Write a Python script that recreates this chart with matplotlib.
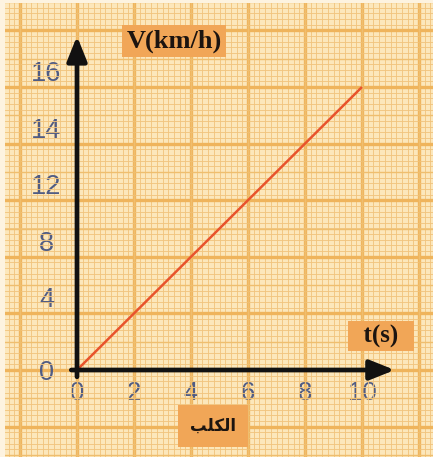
import numpy as np
import matplotlib
matplotlib.use("Agg")
import matplotlib.pyplot as plt
from matplotlib.ticker import FixedLocator, FuncFormatter, MultipleLocator
from matplotlib.scale import FuncScale

# ---- data ----
t_values = [0, 10]            # time (s)
v_values = [0, 16]            # speed (km/h)
x_ticks = [0, 2, 4, 6, 8, 10]
y_ticks = [0, 4, 8, 12, 14, 16]   # printed (unevenly valued, evenly spaced) labels
y_label = "V(km/h)"
x_label = "t(s)"
caption = "\uFE90\uFEE0\uFEDC\uFEDF\uFE8D"   # "الكلب" in shaped presentation forms

# ---- piecewise y scale: labelled values are evenly spaced ----
Y_POS = np.arange(len(y_ticks), dtype=float)
Y_VAL = np.array(y_ticks, dtype=float)
lo_slope = Y_VAL[1] - Y_VAL[0]
hi_slope = Y_VAL[-1] - Y_VAL[-2]

def fwd(v):
    v = np.asarray(v, dtype=float)
    p = np.interp(v, Y_VAL, Y_POS)
    p = np.where(v < Y_VAL[0], (v - Y_VAL[0]) / lo_slope, p)
    p = np.where(v > Y_VAL[-1], Y_POS[-1] + (v - Y_VAL[-1]) / hi_slope, p)
    return p

def inv(p):
    p = np.asarray(p, dtype=float)
    v = np.interp(p, Y_POS, Y_VAL)
    v = np.where(p < 0, Y_VAL[0] + p * lo_slope, v)
    v = np.where(p > Y_POS[-1], Y_VAL[-1] + (p - Y_POS[-1]) * hi_slope, v)
    return v

W, H = 433, 457
fig = plt.figure(figsize=(W / 100, H / 100), dpi=100)
fig.patch.set_facecolor("#fdf3e0")
ax = fig.add_axes([0.012, 0.0, 0.988, 0.993])
ax.set_facecolor("#fce7bb")

ax.set_yscale(FuncScale(ax, (fwd, inv)))

# axis placement (origin ~ pixel (77,370))
px_per_t = 28.5
px_per_pos = 56.6
ax_left_px = 0.012 * W
ax_w_px = 0.988 * W
ax_h_px = 0.993 * H
x0 = -(77 - ax_left_px) / px_per_t
ax.set_xlim(x0, x0 + ax_w_px / px_per_t)
p_bot = -(457 - 370) / px_per_pos
p_top = p_bot + ax_h_px / px_per_pos
ax.set_ylim(float(inv(p_bot)), float(inv(p_top)))

# graph paper grid
xl = ax.get_xlim()
ax.xaxis.set_major_locator(MultipleLocator(2))
ax.xaxis.set_minor_locator(MultipleLocator(0.2))
maj_pos = np.arange(np.floor(p_bot), np.ceil(p_top) + 1)
ax.yaxis.set_major_locator(FixedLocator(inv(maj_pos)))
ax.yaxis.set_minor_locator(FixedLocator(inv(np.arange(np.floor(p_bot), np.ceil(p_top) + 0.1, 0.1))))
ax.grid(which="minor", color="#f1c47d", lw=0.65, alpha=0.95)
ax.grid(which="major", color="#efb45c", lw=2.4)
for xv in np.arange(np.floor(xl[0]), xl[1] + 1, 2) + 1:
    ax.axvline(xv, color="#efbe6e", lw=1.0, zorder=0.6)
for pv in maj_pos + 0.5:
    ax.axhline(float(inv(pv)), color="#efbe6e", lw=1.0, zorder=0.6)
ax.set_axisbelow(True)

# ticks along the axes through the origin
for s in ax.spines.values():
    s.set_visible(False)
ax.spines["bottom"].set_position(("data", 0))
ax.spines["left"].set_position(("data", 0))

label_col = "#505c84"
ax.xaxis.set_major_formatter(FuncFormatter(lambda v, p: f"{v:g}" if 0 <= v <= 10 and abs(v) in x_ticks else ""))
ax.yaxis.set_major_formatter(FuncFormatter(lambda v, p: f"{round(v):g}" if -0.01 <= v <= 16.01 else ""))
ax.tick_params(which="both", length=0)
ax.tick_params(axis="x", pad=8, labelsize=18.5, labelcolor=label_col)
ax.tick_params(axis="y", pad=22, labelsize=19.5, labelcolor=label_col)
for lab in ax.get_xticklabels() + ax.get_yticklabels():
    lab.set_fontfamily("Liberation Sans")
fig.canvas.draw()
for tk in ax.yaxis.get_major_ticks():
    tk.label1.set_ha("center")
    tk.label1.set_fontfamily("Liberation Sans")
    if tk.get_loc() > 0.5:
        tk.label1.set_va("bottom")
for tk in ax.xaxis.get_major_ticks():
    tk.label1.set_fontfamily("Liberation Sans")

# axes arrows
arrow_kw = dict(arrowstyle="-|>,head_length=1.5,head_width=0.6", lw=3.4,
                color="#111111", mutation_scale=10, shrinkA=0, shrinkB=0)
ax.annotate("", xy=(11.15, 0), xytext=(-0.2, 0), arrowprops=arrow_kw, zorder=5)
ax.annotate("", xy=(0, float(inv(5.9))), xytext=(0, float(inv(-0.12))), arrowprops=arrow_kw, zorder=5)

# data line
ax.plot(t_values, v_values, color="#e8532c", lw=1.8, zorder=4, solid_capstyle="butt")

# labels in orange boxes
box_fc = "#f1a657"
ax.text(174 / W, 1 - 41 / H, y_label, transform=fig.transFigure, ha="center", va="center",
        fontsize=19, fontweight="bold", family="Liberation Serif", color="#1c1410",
        bbox=dict(boxstyle="square,pad=0.15", fc=box_fc, ec="none"), zorder=6)
ax.text(381 / W, 1 - 336 / H, "  " + x_label + "  ", transform=fig.transFigure, ha="center", va="center",
        fontsize=18, fontweight="bold", family="Liberation Serif", color="#1c1410",
        bbox=dict(boxstyle="square,pad=0.12", fc=box_fc, ec="none"), zorder=6)
ax.text(213 / W, 1 - 426 / H, caption, transform=fig.transFigure, ha="center", va="center",
        fontsize=12, fontweight="bold", family="DejaVu Sans", color="#1c1410",
        bbox=dict(boxstyle="square,pad=0.7", fc=box_fc, ec="none"), zorder=6)

fig.savefig("out.png", dpi=100)
